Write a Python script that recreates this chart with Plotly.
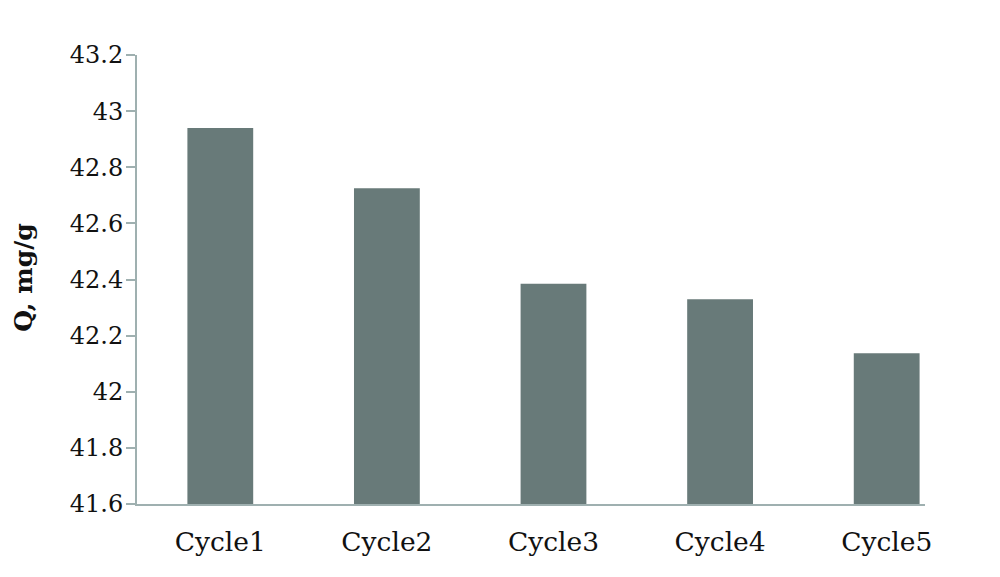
import plotly.graph_objects as go

categories = ["Cycle1", "Cycle2", "Cycle3", "Cycle4", "Cycle5"]
q_values = [42.94, 42.725, 42.385, 42.33, 42.137]
y_floor = 41.6
y_ticks = [41.6, 41.8, 42.0, 42.2, 42.4, 42.6, 42.8, 43.0, 43.2]
y_tick_labels = ["41.6", "41.8", "42", "42.2", "42.4", "42.6", "42.8", "43", "43.2"]

FONT = "DejaVu Serif"
AXIS_COLOR = "#9fb0b0"
TEXT_COLOR = "#111111"

fig = go.Figure(
    go.Bar(
        x=categories,
        y=[v - y_floor for v in q_values],
        base=y_floor,
        marker=dict(color="#687a79", line=dict(width=0)),
        width=0.395,
    )
)

fig.update_layout(
    width=1000,
    height=577,
    margin=dict(l=129, r=83, t=47, b=81),
    paper_bgcolor="white",
    plot_bgcolor="white",
    showlegend=False,
    font=dict(family=FONT, color=TEXT_COLOR),
)

fig.update_xaxes(
    type="category",
    range=[-0.5, 4.23],
    showline=True,
    linecolor=AXIS_COLOR,
    linewidth=2,
    ticks="",
    showgrid=False,
    tickfont=dict(family=FONT, size=26.5, color=TEXT_COLOR),
    ticklabelstandoff=13,
)

fig.update_yaxes(
    range=[41.6, 43.2],
    tickvals=y_ticks,
    ticktext=y_tick_labels,
    showline=True,
    linecolor=AXIS_COLOR,
    linewidth=2,
    ticks="outside",
    ticklen=9,
    tickwidth=2,
    tickcolor=AXIS_COLOR,
    showgrid=False,
    zeroline=False,
    tickfont=dict(family=FONT, size=24, color=TEXT_COLOR),
    ticklabelstandoff=-2,
)

fig.add_annotation(
    text="<b>Q, mg/g</b>",
    xref="paper",
    yref="paper",
    x=-0.144,
    y=0.503,
    xanchor="center",
    yanchor="middle",
    textangle=-90,
    showarrow=False,
    borderpad=0,
    font=dict(family=FONT, size=25, color=TEXT_COLOR),
)

fig.write_html("out.html")
